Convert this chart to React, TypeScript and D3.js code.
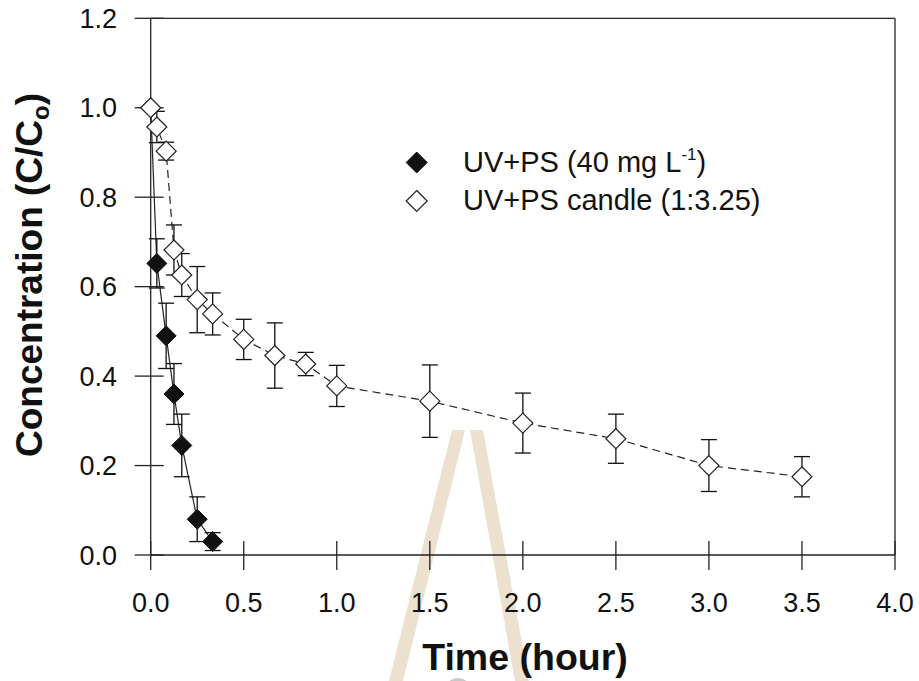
import React from "react";
import * as d3 from "d3";

const timeUVPS = [0, 0.033, 0.083, 0.125, 0.167, 0.25, 0.333];
const concUVPS = [1.0, 0.652, 0.49, 0.36, 0.245, 0.08, 0.03];
const errUVPS = [0, 0.055, 0.073, 0.068, 0.07, 0.05, 0.02];

const timeCandle = [0, 0.033, 0.083, 0.125, 0.167, 0.25, 0.333, 0.5, 0.667, 0.833, 1.0, 1.5, 2.0, 2.5, 3.0, 3.5];
const concCandle = [1.0, 0.957, 0.903, 0.682, 0.626, 0.571, 0.539, 0.482, 0.446, 0.427, 0.378, 0.344, 0.295, 0.26, 0.2, 0.175];
const errCandle = [0, 0.035, 0.02, 0.056, 0.048, 0.074, 0.047, 0.045, 0.073, 0.026, 0.046, 0.081, 0.067, 0.055, 0.058, 0.045];

const xTicks = [0, 0.5, 1.0, 1.5, 2.0, 2.5, 3.0, 3.5, 4.0];
const yTicks = [0, 0.2, 0.4, 0.6, 0.8, 1.0, 1.2];

const W = 919;
const H = 681;
const left = 150.7, right = 895, top = 18.3, bottom = 555;

export default function App() {
  const x = d3.scaleLinear().domain([0, 4]).range([left, right]);
  const y = d3.scaleLinear().domain([0, 1.2]).range([bottom, top]);

  const s1 = timeUVPS.map((t, i) => ({ t, c: concUVPS[i], e: errUVPS[i] }));
  const s2 = timeCandle.map((t, i) => ({ t, c: concCandle[i], e: errCandle[i] }));
  const line = d3.line<{ t: number; c: number }>().x((d) => x(d.t)).y((d) => y(d.c));

  const diamond = (cx: number, cy: number, r: number) =>
    `M${cx},${cy - r}L${cx + r},${cy}L${cx},${cy + r}L${cx - r},${cy}Z`;

  const errBars = (data: { t: number; c: number; e: number }[]) =>
    data
      .filter((d) => d.e > 0)
      .map((d, i) => (
        <g key={i} stroke="#111" strokeWidth={1.3}>
          <line x1={x(d.t)} x2={x(d.t)} y1={y(d.c + d.e)} y2={y(d.c - d.e)} />
          <line x1={x(d.t) - 8} x2={x(d.t) + 8} y1={y(d.c + d.e)} y2={y(d.c + d.e)} />
          <line x1={x(d.t) - 8} x2={x(d.t) + 8} y1={y(d.c - d.e)} y2={y(d.c - d.e)} />
        </g>
      ));

  const font = "Arial, 'Liberation Sans', sans-serif";

  return (
    <svg width={W} height={H} style={{ position: "absolute", left: 0, top: 0, background: "#fff" }}>
      {/* watermark */}
      <g fill="#e9dcc7" opacity={0.85}>
        <polygon points="452,430 465,430 403,681 389,681" />
        <polygon points="470,430 483,430 529,681 515,681" />
      </g>
      <circle cx={458} cy={692} r={14} fill="#c8c8c8" />

      {/* frame */}
      <g stroke="#222" strokeWidth={1.3} fill="none">
        <line x1={left} x2={right} y1={top} y2={top} />
        <line x1={right} x2={right} y1={top} y2={bottom} />
        <line x1={left} x2={right} y1={bottom} y2={bottom} />
        <line x1={left} x2={left} y1={top} y2={bottom} />
        {yTicks.map((v) => (
          <line key={"yt" + v} x1={left - 16} x2={left + 13} y1={y(v)} y2={y(v)} />
        ))}
        {xTicks.map((v) => (
          <line key={"xt" + v} x1={x(v)} x2={x(v)} y1={bottom - 14} y2={bottom + 15} />
        ))}
      </g>

      {/* tick labels */}
      <g fontFamily={font} fontSize={27} fill="#111">
        {yTicks.map((v) => (
          <text key={"yl" + v} x={117} y={y(v) + 9.5} textAnchor="end">
            {d3.format(".1f")(v)}
          </text>
        ))}
        {xTicks.map((v) => (
          <text key={"xl" + v} x={x(v)} y={612} textAnchor="middle">
            {d3.format(".1f")(v)}
          </text>
        ))}
      </g>

      {/* axis titles */}
      <text x={525} y={670} textAnchor="middle" fontFamily={font} fontWeight="bold" fontSize={37.5} fill="#111">
        Time (hour)
      </text>
      <text
        transform={`translate(41.7,275) rotate(-90)`}
        textAnchor="middle"
        fontFamily={font}
        fontWeight="bold"
        fontSize={37}
        fill="#111"
      >
        Concentration (C/C
        <tspan fontSize={24} dy={7}>o</tspan>
        <tspan dy={-7}>)</tspan>
      </text>

      {/* series lines */}
      <path d={line(s2) || ""} fill="none" stroke="#222" strokeWidth={1.2} strokeDasharray="8,5" />
      <path d={line(s1) || ""} fill="none" stroke="#222" strokeWidth={1.2} />

      {/* error bars */}
      {errBars(s2)}
      {errBars(s1)}

      {/* markers */}
      {s1.map((d, i) => (
        <path key={"m1" + i} d={diamond(x(d.t), y(d.c), 10)} fill="#111" stroke="#111" strokeWidth={1} />
      ))}
      {s2.map((d, i) => (
        <path key={"m2" + i} d={diamond(x(d.t), y(d.c), 10)} fill="#fff" stroke="#222" strokeWidth={1.2} />
      ))}

      {/* legend */}
      <path d={diamond(416.7, 162.5, 10.5)} fill="#111" stroke="#111" />
      <path d={diamond(416.7, 201, 10.5)} fill="#fff" stroke="#222" strokeWidth={1.2} />
      <g fontFamily={font} fontSize={29} fill="#111">
        <text x={463} y={172}>
          UV+PS (40 mg L<tspan fontSize={17} dy={-12}>-1</tspan>
          <tspan dy={12}>)</tspan>
        </text>
        <text x={463} y={210}>UV+PS candle (1:3.25)</text>
      </g>
    </svg>
  );
}
